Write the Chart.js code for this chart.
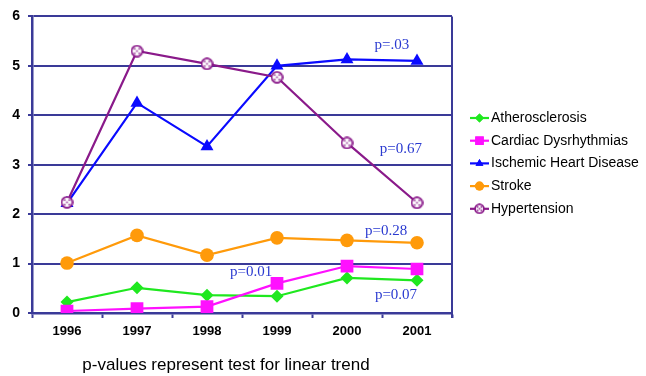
<!DOCTYPE html>
<html>
<head>
<meta charset="utf-8">
<script src="https://cdn.jsdelivr.net/npm/chart.js@4.4.1/dist/chart.umd.min.js"></script>
<style>
  html, body { margin: 0; padding: 0; background: #ffffff; }
  #wrap { position: relative; width: 646px; height: 376px; }
</style>
</head>
<body>
<div id="wrap"><canvas id="c" width="646" height="376"></canvas></div>
<script>
// Years on the x axis
const years = ['1996', '1997', '1998', '1999', '2000', '2001'];

// Rates per series
const atherosclerosis = [0.22, 0.51, 0.36, 0.34, 0.71, 0.66];
const cardiacDysrhythmias = [0.04, 0.09, 0.13, 0.60, 0.95, 0.89];
const ischemicHeartDisease = [2.22, 4.25, 3.37, 5.00, 5.13, 5.10];
const stroke = [1.01, 1.57, 1.17, 1.52, 1.47, 1.42];
const hypertension = [2.24, 5.30, 5.04, 4.77, 3.44, 2.23];

// Y axis tick values
const yTicks = [0, 1, 2, 3, 4, 5, 6];

// Trend test p-values and where each is written (category index, y value)
const pLabels = ['p=.03', 'p=0.67', 'p=0.28', 'p=0.01', 'p=0.07'];
const pAt = [[4.64, 5.43], [4.77, 3.32], [4.56, 1.65], [2.63, 0.82], [4.70, 0.36]];

const caption = 'p-values represent test for linear trend';

const NAVY = '#3a3a98';
const FONT = '"Liberation Sans", Arial, sans-serif';

// Hollow purple ring with a dotted centre, used for the hypertension points
function ringMarker(size) {
  const cv = document.createElement('canvas');
  cv.width = size; cv.height = size;
  const g = cv.getContext('2d');
  const r = size / 2 - 1.1;
  g.beginPath();
  g.arc(size / 2, size / 2, r, 0, Math.PI * 2);
  g.fillStyle = '#ffffff';
  g.fill();
  g.lineWidth = 1.8;
  g.strokeStyle = '#8a1a8a';
  g.stroke();
  g.fillStyle = '#a04aa0';
  const c = size / 2, d = r * 0.42;
  [[-d, -d], [d, -d], [-d, d], [d, d], [0, 0]].forEach(([dx, dy]) => {
    g.beginPath();
    g.arc(c + dx, c + dy, 1.0, 0, Math.PI * 2);
    g.fill();
  });
  return cv;
}
const ring = ringMarker(13);
const ringSmall = ringMarker(11);

const series = [
  { label: 'Atherosclerosis', data: atherosclerosis, color: '#1fe81f', style: 'rectRot', radius: 6.5 },
  { label: 'Cardiac Dysrhythmias', data: cardiacDysrhythmias, color: '#ff10ff', style: 'rect', radius: 9 },
  { label: 'Ischemic Heart Disease', data: ischemicHeartDisease, color: '#0a0aff', style: 'triangle', radius: 7.5 },
  { label: 'Stroke', data: stroke, color: '#ff9a0a', style: 'circle', radius: 6.8 },
  { label: 'Hypertension', data: hypertension, color: '#8a1a8a', style: ring, radius: 6.5 }
];

// p-value notes, drawn in data coordinates
const notesPlugin = {
  id: 'notes',
  afterDatasetsDraw(chart) {
    const { ctx, scales: { x, y } } = chart;
    ctx.save();
    ctx.font = '15px "Liberation Serif", "Times New Roman", serif';
    ctx.fillStyle = '#2a3ad0';
    ctx.textAlign = 'center';
    ctx.textBaseline = 'middle';
    pLabels.forEach((t, i) => {
      const px = x.getPixelForValue(0) + (x.getPixelForValue(1) - x.getPixelForValue(0)) * pAt[i][0];
      ctx.fillText(t, px, y.getPixelForValue(pAt[i][1]));
    });
    ctx.restore();
  }
};

// Legend on the right and the caption under the axis
const sidePlugin = {
  id: 'side',
  afterDraw(chart) {
    const { ctx } = chart;
    ctx.save();
    const x0 = 470, y0 = 118, step = 22.7;
    series.forEach((s, i) => {
      const yy = y0 + i * step;
      ctx.strokeStyle = s.color;
      ctx.lineWidth = 2.2;
      ctx.beginPath();
      ctx.moveTo(x0, yy);
      ctx.lineTo(x0 + 19, yy);
      ctx.stroke();
      const cx = x0 + 9.5;
      ctx.fillStyle = s.color;
      if (s.style === ring) {
        ctx.drawImage(ringSmall, cx - 5.5, yy - 5.5);
      } else {
        Chart.helpers.drawPoint(ctx, { pointStyle: s.style, radius: s.style === 'rect' ? 6 : 4.5, borderWidth: 0 }, cx, yy);
        ctx.fill();
      }
      ctx.fillStyle = '#000000';
      ctx.font = '14px ' + FONT;
      ctx.textAlign = 'left';
      ctx.textBaseline = 'middle';
      ctx.fillText(s.label, x0 + 21, yy);
    });
    ctx.font = '17px ' + FONT;
    ctx.fillStyle = '#000000';
    ctx.textAlign = 'center';
    ctx.textBaseline = 'middle';
    ctx.fillText(caption, 226, 365);
    ctx.restore();
  }
};

new Chart(document.getElementById('c'), {
  type: 'line',
  data: {
    labels: years,
    datasets: series.map(s => ({
      label: s.label,
      data: s.data,
      borderColor: s.color,
      backgroundColor: s.color,
      borderWidth: 2.2,
      pointStyle: s.style,
      pointRadius: s.radius,
      pointBorderWidth: 0,
      pointHoverRadius: s.radius,
      tension: 0,
      fill: false
    })).reverse()
  },
  options: {
    responsive: false,
    animation: false,
    events: [],
    layout: { padding: { left: 2, right: 194, top: 15, bottom: 0 } },
    plugins: { legend: { display: false }, tooltip: { enabled: false } },
    scales: {
      x: {
        offset: true,
        grid: {
          offset: true,
          drawOnChartArea: false,
          drawTicks: true,
          tickLength: 5,
          tickWidth: 2,
          tickColor: NAVY
        },
        border: { display: true, color: NAVY, width: 2.5 },
        ticks: {
          color: '#000000',
          font: { family: FONT, size: 13, weight: 'bold' },
          padding: 6,
          maxRotation: 0
        },
        afterFit(scale) { scale.height = 63; }
      },
      y: {
        min: 0,
        max: 6,
        afterBuildTicks(scale) { scale.ticks = yTicks.map(v => ({ value: v })); },
        grid: {
          color: NAVY,
          lineWidth: 2,
          drawTicks: true,
          tickLength: 4,
          tickColor: NAVY
        },
        border: { display: true, color: NAVY, width: 2.5 },
        ticks: {
          color: '#000000',
          font: { family: FONT, size: 14, weight: 'bold' },
          padding: 8
        },
        afterFit(scale) { scale.width = 30; }
      }
    }
  },
  plugins: [notesPlugin, sidePlugin, {
    id: 'frame',
    beforeDatasetsDraw(chart) {
      const { ctx, chartArea: a } = chart;
      ctx.save();
      ctx.strokeStyle = NAVY;
      ctx.lineWidth = 2;
      ctx.beginPath();
      ctx.moveTo(a.right, a.top);
      ctx.lineTo(a.right, a.bottom + 5);
      ctx.stroke();
      ctx.restore();
    }
  }]
});
</script>
</body>
</html>
